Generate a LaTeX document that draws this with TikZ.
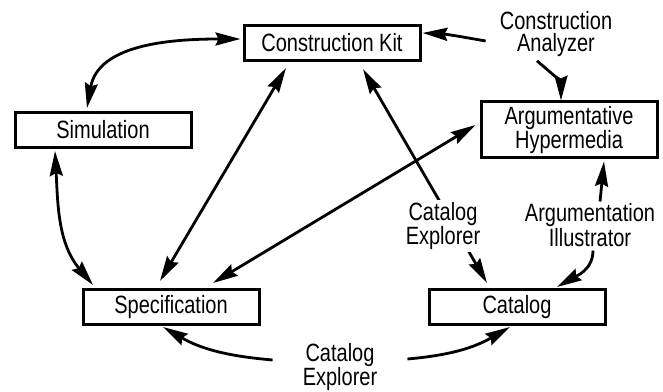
\documentclass[tikz,border=0pt]{standalone}
\usepackage{fontspec}
\setmainfont{Liberation Sans}[FakeStretch=0.8]
\usetikzlibrary{arrows.meta, positioning}

\begin{document}
\begin{tikzpicture}[
    x=1pt, y=1pt,
    node distance=167pt and 287pt,
    box/.style={rectangle, draw, line width=3pt, minimum width=176pt, minimum height=35pt, inner sep=0pt, align=center, font=\fontsize{25}{24}\selectfont},
    lbl/.style={inner sep=2pt, align=center, font=\fontsize{25}{22}\selectfont},
    arrow/.style={-{Stealth[length=25pt, width=13pt, inset=3pt]}, line width=2.8pt},
    dblarrow/.style={{Stealth[length=25pt, width=13pt, inset=3pt]}-{Stealth[length=25pt, width=13pt, inset=3pt]}, line width=2.8pt}
]
    \useasboundingbox (0,0) rectangle (663,391);

    % Boxes
    \node[box] (kit) at (332,348) {Construction Kit};
    \node[box] (sim) at (103,261) {Simulation};
    \node[box, minimum height=56pt, right=287pt of sim] (hyp) {Argumentative\\Hypermedia};
    \node[box] (spec) at (171,84) {Specification};
    \node[box, right=167pt of spec] (cat) {Catalog};

    % Labels
    \node[lbl] (analyzer) at (556,357) {Construction\\Analyzer};
    \node[lbl] (illus) at (590,166) {Argumentation\\Illustrator};
    \node[lbl] (explbot) at (340,24) {Catalog\\Explorer};

    % Arrows - double headed
    \draw[dblarrow] ([xshift=-16pt, yshift=3pt]sim.north) to[out=80, in=180] ([xshift=-2pt, yshift=4pt]kit.west);
    \draw[dblarrow] ([xshift=-48pt, yshift=-2pt]sim.south) to[out=-87, in=130] ([xshift=-78pt, yshift=3pt]spec.north);
    \draw[dblarrow] ([xshift=-11pt, yshift=7pt]spec.north) -- ([xshift=-46pt, yshift=-6pt]kit.south);
    \draw[dblarrow] ([xshift=42pt, yshift=5pt]spec.north) -- ([xshift=-4pt, yshift=5pt]hyp.west);
    \draw[dblarrow] ([xshift=31pt, yshift=-7pt]kit.south) -- ([xshift=-30pt, yshift=5pt]cat.north);
    \node[lbl, fill=white] (explmid) at (443,165) {Catalog\\Explorer};

    % Arrows - from the tools
    \draw[arrow] ([xshift=-12pt, yshift=-7pt]analyzer.west) to[out=170, in=-3] ([xshift=1pt, yshift=10pt]kit.east);
    \draw[arrow] ([xshift=-19pt, yshift=-2pt]analyzer.south) to[out=-40, in=90] ([xshift=-8pt]hyp.north);
    \draw[arrow] ([xshift=10pt]illus.north) -- ([xshift=35pt, yshift=-2pt]hyp.south);
    \draw[arrow] ([xshift=3pt, yshift=-2pt]illus.south) to[out=-90, in=30] ([xshift=40pt, yshift=1pt]cat.north);
    \draw[arrow] ([xshift=-28pt, yshift=7pt]explbot.west) to[out=175, in=-30] ([xshift=-8pt, yshift=-1pt]spec.south);
    \draw[arrow] ([xshift=28pt, yshift=8pt]explbot.east) to[out=5, in=-150] ([xshift=-7pt, yshift=-1pt]cat.south);
\end{tikzpicture}
\end{document}
